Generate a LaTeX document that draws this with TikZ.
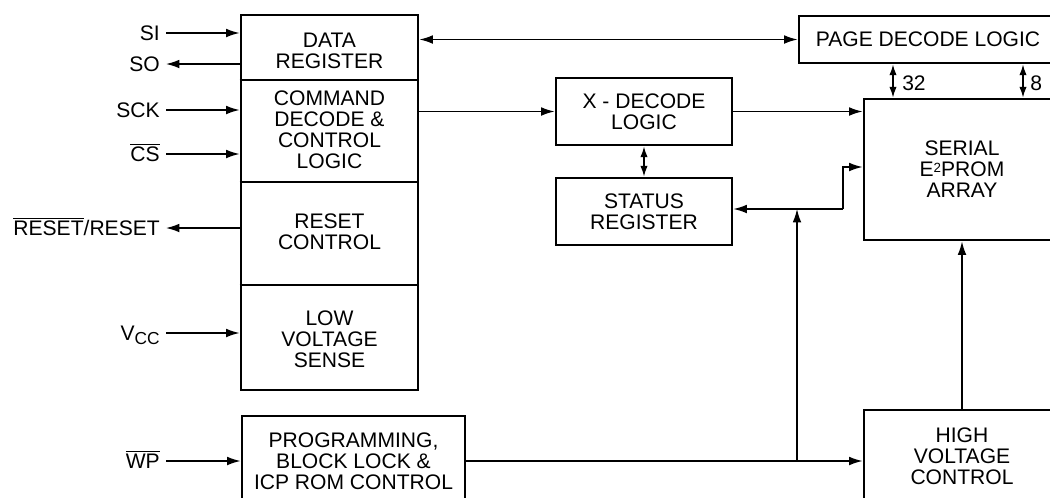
\documentclass[tikz,border=0pt]{standalone}
\usepackage{fontspec}
\setmainfont{Liberation Sans}
\usetikzlibrary{arrows.meta}
\newdimen\px \px=0.75pt
\newcommand{\ovl}[1]{$\overline{\hbox{#1}}$}
\newcommand{\supsmall}[1]{\raisebox{3.2pt}{\fontsize{10}{10}\selectfont #1}}
\begin{document}
\begin{tikzpicture}[x=0.75pt,y=-0.75pt,
  font=\fontsize{15.8}{15.75}\selectfont,
  box/.style={draw, line width=2.2pt, inner sep=0pt, align=center},
  txt/.style={align=center, inner sep=0pt},
  con/.style={line width=1.05pt},
  tip/.tip={Latex[length=10pt,width=6.5pt]},
  arr/.style={con, -tip},
  dbl/.style={con, tip-tip},
  stip/.tip={Latex[length=8pt,width=5.5pt]},
  sdbl/.style={con, stip-stip},
  divider/.style={line width=1.05pt},
  lbl/.style={anchor=east, inner xsep=4.5pt, inner ysep=0pt, text height=10.5pt, text depth=0pt}]
\clip (0,0) rectangle (1050,497);
\fill[white] (0,0) rectangle (1050,497);

% main left box
\node[box, minimum width=177\px, minimum height=375\px] (main) at (329.5,202.5) {};
\coordinate (d1) at (0,80);
\coordinate (d2) at (0,182);
\coordinate (d3) at (0,285);
\draw[divider] (main.west |- d1) -- (main.east |- d1);
\draw[divider] (main.west |- d2) -- (main.east |- d2);
\draw[divider] (main.west |- d3) -- (main.east |- d3);
\node[txt] (tdata) at (329.5,51) {DATA\\REGISTER};
\node[txt] (tcmd) at (329.5,130) {COMMAND\\DECODE \&\\CONTROL\\LOGIC};
\node[txt] (treset) at (329.5,232) {RESET\\CONTROL};
\node[txt] (tlow) at (329.5,339) {LOW\\VOLTAGE\\SENSE};

% other boxes
\node[box, minimum width=223\px, minimum height=90\px] (prog) at (353.5,461) {PROGRAMMING,\\BLOCK LOCK \&\\ICP ROM CONTROL};
\node[box, minimum width=258\px, minimum height=47\px] (page) at (928,39.5) {PAGE DECODE LOGIC};
\node[box, minimum width=176\px, minimum height=67\px] (xdec) at (644,111.5) {X - DECODE\\LOGIC};
\node[box, minimum width=176\px, minimum height=67\px] (status) at (644,211.5) {STATUS\\REGISTER};
\node[box, minimum width=196\px, minimum height=141\px] (serial) at (962,169.5) {SERIAL\\E\supsmall{2}PROM\\ARRAY};
\node[box, minimum width=196\px, minimum height=92\px] (hv) at (962,456) {HIGH\\VOLTAGE\\CONTROL};

% pin labels
\node[lbl] (si) at (166,33) {SI};
\node[lbl] (so) at (166,64) {SO};
\node[lbl] (sck) at (166,110) {SCK};
\node[lbl] (cs) at (166,154) {\ovl{CS}};
\node[lbl] (rst) at (166,228) {\ovl{RESET}/RESET};
\node[lbl] (vcc) at (166,333) {V\raisebox{-3.7pt}{\fontsize{13}{13}\selectfont CC}};
\node[lbl] (wp) at (166,461) {\ovl{WP}};

\draw[arr] (si.east) -- (si.east -| main.west);
\draw[arr] (so.east -| main.west) -- (so.east);
\draw[arr] (sck.east) -- (sck.east -| main.west);
\draw[arr] (cs.east) -- (cs.east -| main.west);
\draw[arr] (rst.east -| main.west) -- (rst.east);
\draw[arr] (vcc.east) -- (vcc.east -| main.west);
\draw[arr] (wp.east) -- (wp.east -| prog.west);

% internal connectors
\draw[dbl] (page.west -| main.east) -- (page.west);
\draw[arr] (xdec.west -| main.east) -- (xdec.west);
\draw[arr] (xdec.east) -- (xdec.east -| serial.west);
\draw[sdbl] (xdec.south) -- (status.north);

\coordinate (bend) at (843,209);
\coordinate (in2) at (0,167);
\coordinate (vx) at (797,0);
\draw[arr] (bend) -- (bend -| status.east);
\draw[arr] (bend) |- (serial.west |- in2);
\draw[arr] (prog.east) -- (prog.east -| hv.west);
\coordinate (j2) at (vx |- prog.east);
\draw[arr] (j2) -- (j2 |- bend);
\draw[arr] (hv.north) -- (serial.south);

\coordinate (c32) at (893,0);
\coordinate (c8) at (1023,0);
\draw[sdbl] (page.south -| c32) -- (serial.north -| c32);
\draw[sdbl] (page.south -| c8) -- (serial.north -| c8);
\node[anchor=west, inner sep=0pt] (l32) at (902,83) {32};
\node[anchor=west, inner sep=0pt] (l8) at (1030,83) {8};
\end{tikzpicture}
\end{document}
